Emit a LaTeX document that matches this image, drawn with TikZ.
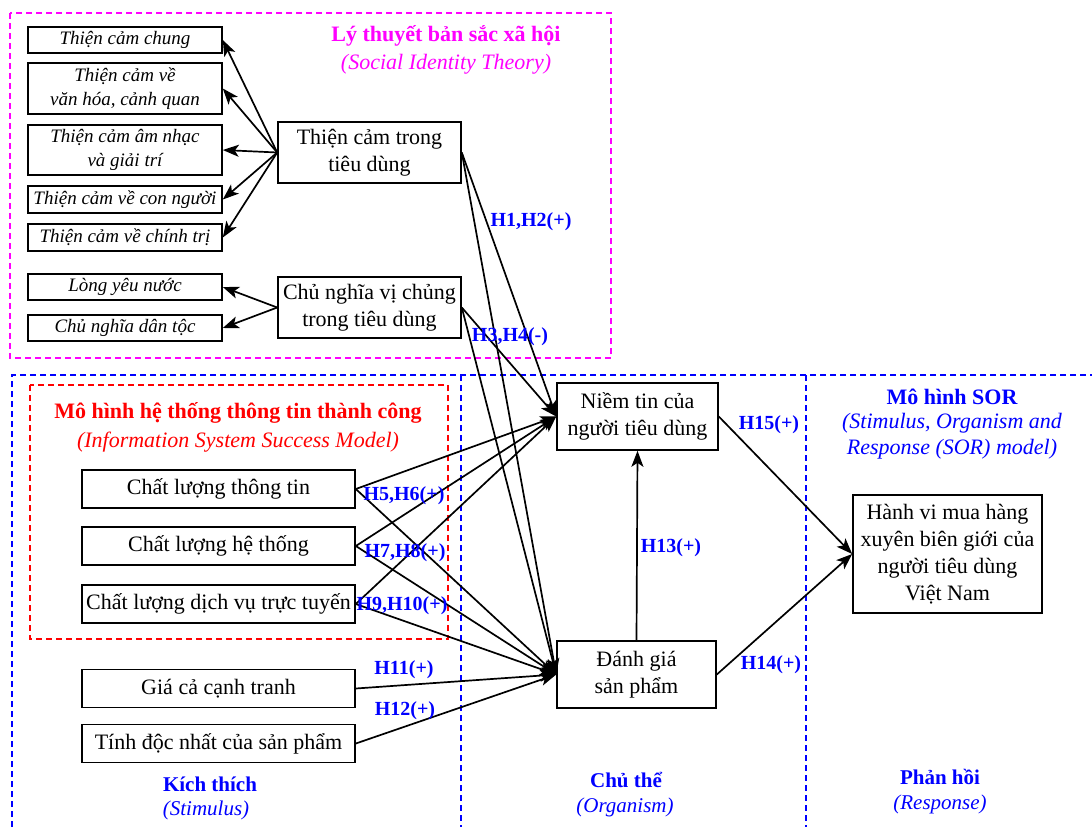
\documentclass[tikz,border=0pt]{standalone}
\usepackage{fontspec}
\setmainfont{Liberation Serif}
\usetikzlibrary{arrows.meta}
\definecolor{M1}{RGB}{255,0,255}
\definecolor{B1}{RGB}{0,0,255}
\definecolor{R1}{RGB}{255,0,0}

\begin{document}
\begin{tikzpicture}[x=1pt,y=-1pt,
    box/.style={draw,line width=1.6pt,inner sep=0pt,align=center,font=\fontsize{22}{27}\selectfont},
    sbox/.style={draw,line width=1.6pt,inner sep=0pt,align=center,minimum width=194pt,font=\fontsize{19}{24}\selectfont\itshape},
    hyp/.style={text=B1,inner sep=1pt,font=\fontsize{20}{24}\selectfont\bfseries},
    ttl/.style={align=center,inner sep=0pt,font=\fontsize{22}{26}\selectfont\bfseries},
    sub/.style={align=center,inner sep=0pt,font=\fontsize{22}{26}\selectfont\itshape},
    lnk/.style={line width=1.7pt,-{Stealth[length=16pt,width=12pt,inset=4pt]}},
    frame/.style={line width=1.5pt,dash pattern=on 6pt off 4pt}]
      \useasboundingbox (0,0) rectangle (1092,827);
      \draw[frame,M1] (10,13) rectangle (611,358);
      \draw[frame,B1] (12,827) -- (12,375) -- (1092,375);
      \draw[frame,B1] (461,375) -- (461,827);
      \draw[frame,B1] (806,375) -- (806,827);
      \draw[frame,R1] (30,385) rectangle (448,639);

      \node[ttl,M1] (sitTitle) at (446,36) {Lý thuyết bản sắc xã hội};
      \node[sub,M1] (sitSub) at (446,64) {(Social Identity Theory)};
      \node[ttl,R1] (issTitle) at (238,413) {Mô hình hệ thống thông tin thành công};
      \node[sub,R1] (issSub) at (238,442) {(Information System Success Model)};
      \node[ttl,B1] (sorTitle) at (952,397) {Mô hình SOR};
      \node[sub,B1] (sorSub) at (952,436) {(Stimulus, Organism and\\Response (SOR) model)};
      \node[ttl,B1,font=\fontsize{21}{26}\selectfont\bfseries] (kt) at (210,784) {Kích thích};
      \node[sub,B1,font=\fontsize{21}{26}\selectfont\itshape] (ktSub) at (206,810) {(Stimulus)};
      \node[ttl,B1,font=\fontsize{21}{26}\selectfont\bfseries] (ct) at (626,780) {Chủ thể};
      \node[sub,B1,font=\fontsize{21}{26}\selectfont\itshape] (ctSub) at (625,807) {(Organism)};
      \node[ttl,B1,font=\fontsize{21}{26}\selectfont\bfseries] (ph) at (940,777) {Phản hồi};
      \node[sub,B1,font=\fontsize{21}{26}\selectfont\itshape] (phSub) at (940,804) {(Response)};

      \node[sbox,minimum height=26pt] (chung) at (125,40) {Thiện cảm chung};
      \node[sbox,minimum height=51pt] (vanhoa) at (125,88.5) {Thiện cảm về\\văn hóa, cảnh quan};
      \node[sbox,minimum height=50pt] (amnhac) at (125,150) {Thiện cảm âm nhạc\\và giải trí};
      \node[sbox,minimum height=27pt] (connguoi) at (125,199.5) {Thiện cảm về con người};
      \node[sbox,minimum height=27pt] (chinhtri) at (125,237.5) {Thiện cảm về chính trị};
      \node[sbox,minimum height=26pt] (yeunuoc) at (125,287) {Lòng yêu nước};
      \node[sbox,minimum height=26pt] (dantoc) at (125,328) {Chủ nghĩa dân tộc};

      \node[box,minimum width=183pt,minimum height=61pt] (thiencam) at (369.5,152.5) {Thiện cảm trong\\tiêu dùng};
      \node[box,minimum width=183pt,minimum height=61pt] (vichung) at (369.5,307.5) {Chủ nghĩa vị chủng\\trong tiêu dùng};

      \node[box,minimum width=273pt,minimum height=38pt] (ttin) at (218.5,489) {Chất lượng thông tin};
      \node[box,minimum width=273pt,minimum height=38pt] (hthong) at (218.5,546) {Chất lượng hệ thống};
      \node[box,minimum width=273pt,minimum height=38pt] (dvu) at (218.5,604) {Chất lượng dịch vụ trực tuyến};
      \node[box,minimum width=273pt,minimum height=38pt] (giaca) at (218.5,688.5) {Giá cả cạnh tranh};
      \node[box,minimum width=273pt,minimum height=38pt] (docnhat) at (218.5,743.5) {Tính độc nhất của sản phẩm};

      \node[box,minimum width=161pt,minimum height=67pt] (niemtin) at (637.5,416.5) {Niềm tin của\\người tiêu dùng};
      \node[box,minimum width=159pt,minimum height=67pt] (danhgia) at (636.5,674.5) {Đánh giá\\sản phẩm};
      \node[box,minimum width=189pt,minimum height=118pt] (hanhvi) at (947.5,554) {Hành vi mua hàng\\xuyên biên giới của\\người tiêu dùng\\Việt Nam};

      \foreach \t in {chung,vanhoa,amnhac,connguoi,chinhtri}
        \draw[lnk] (thiencam.west) -- (\t.east);
      \foreach \t in {yeunuoc,dantoc}
        \draw[lnk] (vichung.west) -- (\t.east);
      \foreach \s in {thiencam,vichung,ttin,hthong,dvu} {
        \draw[lnk] (\s.east) -- (niemtin.west);
        \draw[lnk] (\s.east) -- (danhgia.west);
      }
      \draw[lnk] (giaca.east) -- (danhgia.west);
      \draw[lnk] (docnhat.east) -- (danhgia.west);
      \draw[lnk] (danhgia.north) -- (niemtin.south);
      \draw[lnk] (niemtin.east) -- (hanhvi.west);
      \draw[lnk] (danhgia.east) -- (hanhvi.west);

      \node[hyp] (h12) at (531,222) {H1,H2(+)};
      \node[hyp] (h34) at (510,337) {H3,H4(-)};
      \node[hyp] (h56) at (404,496) {H5,H6(+)};
      \node[hyp] (h78) at (405,553) {H7,H8(+)};
      \node[hyp] (h910) at (402,606) {H9,H10(+)};
      \node[hyp] (h11) at (404,670) {H11(+)};
      \node[hyp] (h1b) at (405,711) {H12(+)};
      \node[hyp] (h13) at (671,548) {H13(+)};
      \node[hyp] (h15) at (769,425) {H15(+)};
      \node[hyp] (h14) at (771,665) {H14(+)};
    \end{tikzpicture}
\end{document}
